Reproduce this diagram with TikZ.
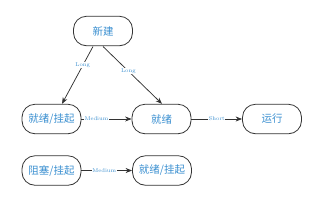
\documentclass[tikz,border=0pt]{standalone}
\usepackage{fontspec}
\newfontfamily\cjk{Noto Sans CJK SC}
\usetikzlibrary{arrows.meta}
\definecolor{txtblue}{HTML}{3A8FD0}
\definecolor{edgegray}{HTML}{333333}
\tikzset{
  state/.style={draw=edgegray, line width=0.8pt, rounded corners=13pt, minimum width=59pt, minimum height=29.5pt, inner sep=0pt, text=txtblue, font=\cjk\fontsize{10.5pt}{12pt}\selectfont},
  conn/.style={draw=edgegray, line width=0.75pt, -{Stealth[length=6.5pt,width=5pt]}},
  lbl/.style={text=txtblue, font=\fontsize{5.5pt}{6.5pt}\selectfont, inner sep=0.5pt},
  lblbg/.style={lbl, fill=white}
}
\begin{document}
\begin{tikzpicture}[x=1pt,y=-1pt]
\useasboundingbox (0,0) rectangle (323,202);
\node[state] (new) at (103,31) {新建};
\node[state] (rs1) at (51.5,119) {就绪/挂起};
\node[state] (ready) at (161.5,119) {就绪};
\node[state] (run) at (272,119) {运行};
\node[state] (block) at (51.5,170.5) {阻塞/挂起};
\node[state] (rs2) at (162,170.5) {就绪/挂起};
\coordinate (a1) at (93,46.5);
\coordinate (a2) at (103,46.5);
\draw[conn] (a1) -- node[lblbg, pos=0.33] {Long} (rs1.north -| 62,0);
\draw[conn] (a2) -- node[lblbg, pos=0.43] {Long} (ready.north -| 162,0);
\draw[conn] (rs1) -- node[lblbg, pos=0.3] {Medium} (ready);
\draw[conn] (ready) -- node[lblbg, pos=0.5] {Short} (run);
\draw[conn] (block) -- node[lblbg, pos=0.45] {Medium} (rs2);
\end{tikzpicture}
\end{document}
